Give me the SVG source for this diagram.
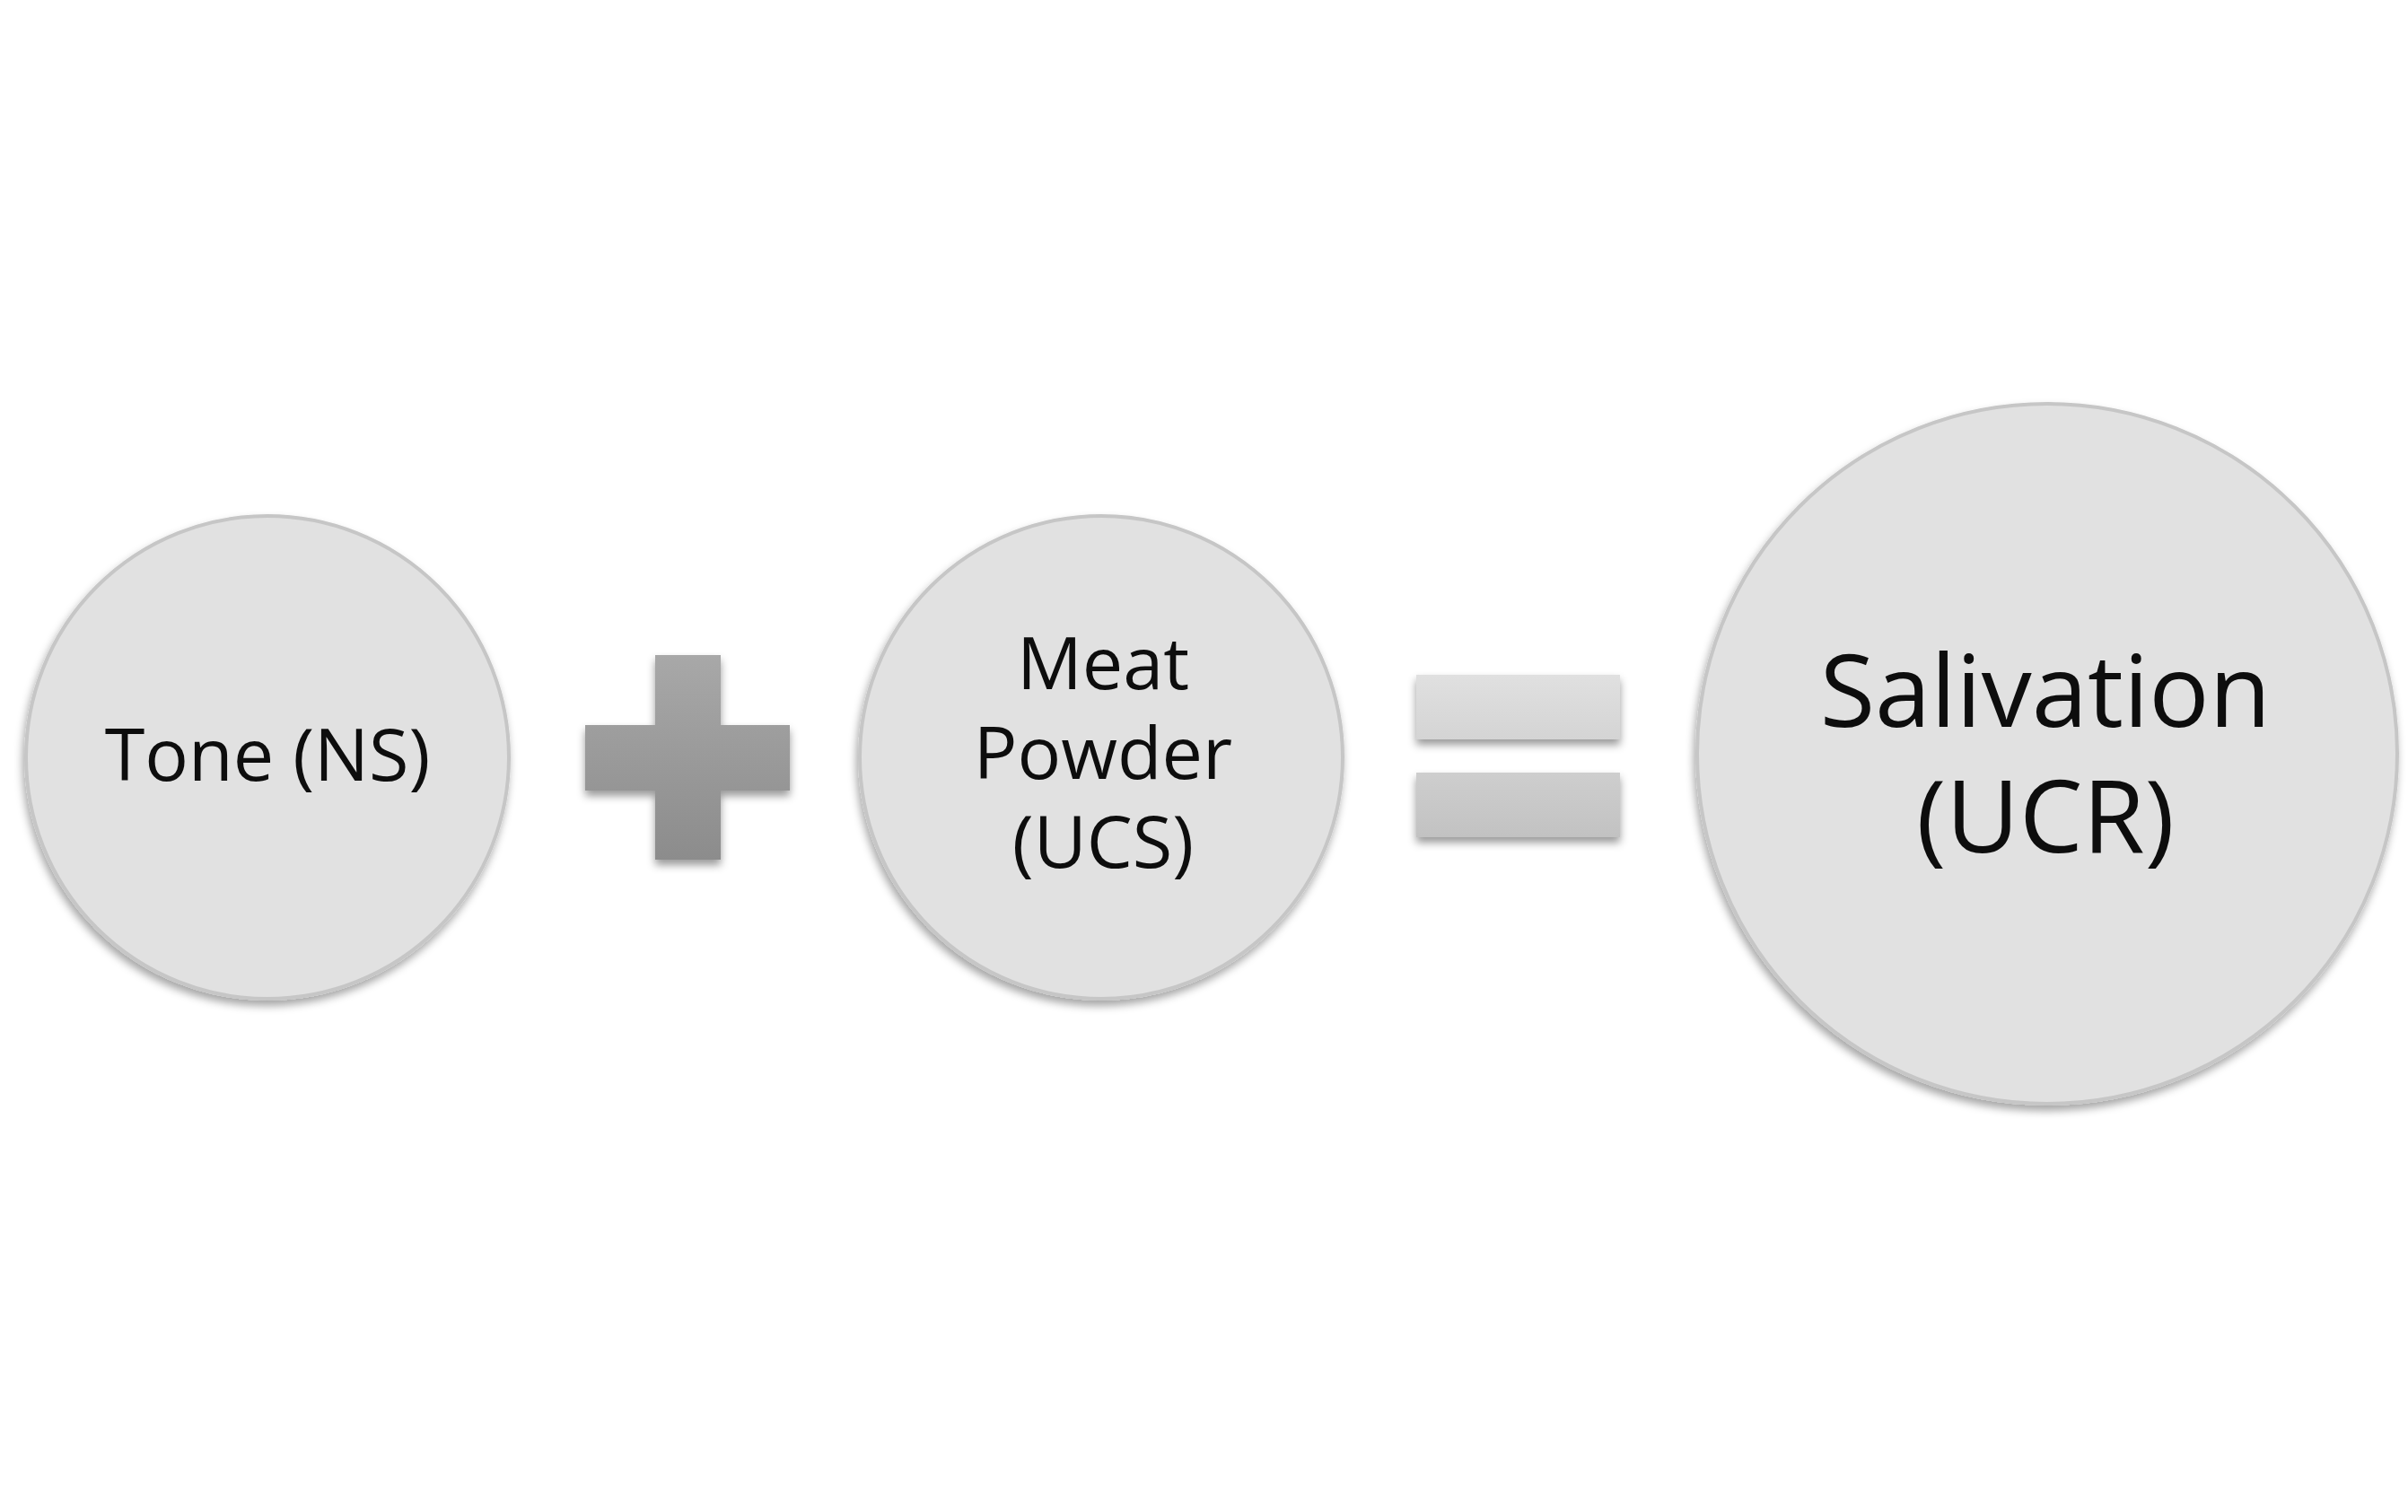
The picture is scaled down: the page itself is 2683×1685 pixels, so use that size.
<svg xmlns="http://www.w3.org/2000/svg" width="2683" height="1685" viewBox="0 0 2683 1685">
  <style>
    .node { fill: #e1e1e1; stroke: #c6c6c6; stroke-width: 4; filter: url(#shadow); }
    .label { font-family: "Open Sans", "Noto Sans", "Liberation Sans", sans-serif; fill: #0d0d0d; text-anchor: middle; }
    .op { filter: url(#shadow2); }
  </style>
  <defs>
    <filter id="shadow" x="-10%" y="-10%" width="120%" height="125%">
      <feDropShadow dx="-2" dy="6" stdDeviation="5" flood-color="#000" flood-opacity="0.35"/>
    </filter>
    <filter id="shadow2" x="-10%" y="-10%" width="120%" height="130%">
      <feDropShadow dx="0" dy="6" stdDeviation="5" flood-color="#000" flood-opacity="0.4"/>
    </filter>
    <linearGradient id="plusGrad" gradientUnits="userSpaceOnUse" x1="0" y1="730" x2="0" y2="958">
      <stop offset="0" stop-color="#a8a8a8"/>
      <stop offset="1" stop-color="#8c8c8c"/>
    </linearGradient>
    <linearGradient id="eqGrad" gradientUnits="userSpaceOnUse" x1="0" y1="752" x2="0" y2="933">
      <stop offset="0" stop-color="#e0e0e0"/>
      <stop offset="1" stop-color="#c2c2c2"/>
    </linearGradient>
  </defs>

  <rect width="2683" height="1685" fill="#ffffff"/>

  <g id="node-tone">
    <circle class="node" cx="298" cy="844" r="269"/>
    <text class="label" x="298" y="870" font-size="81">Tone (NS)</text>
  </g>

  <g id="operator-plus" class="op">
    <path d="M730 730 H803 V808 H880 V881 H803 V958 H730 V881 H652 V808 H730 Z" fill="url(#plusGrad)"/>
  </g>

  <g id="node-meat">
    <circle class="node" cx="1227" cy="844" r="269"/>
    <text class="label" x="1229" y="768" font-size="81">Meat</text>
    <text class="label" x="1229" y="868" font-size="81">Powder</text>
    <text class="label" x="1229" y="967" font-size="81">(UCS)</text>
  </g>

  <g id="operator-equals" class="op">
    <rect x="1578" y="752" width="227" height="72" fill="url(#eqGrad)"/>
    <rect x="1578" y="861" width="227" height="72" fill="url(#eqGrad)"/>
  </g>

  <g id="node-salivation">
    <circle class="node" cx="2281" cy="840" r="390"/>
    <text class="label" x="2279" y="810" font-size="112">Salivation</text>
    <text class="label" x="2279" y="950" font-size="112">(UCR)</text>
  </g>

  <g id="connectors"/>
</svg>
